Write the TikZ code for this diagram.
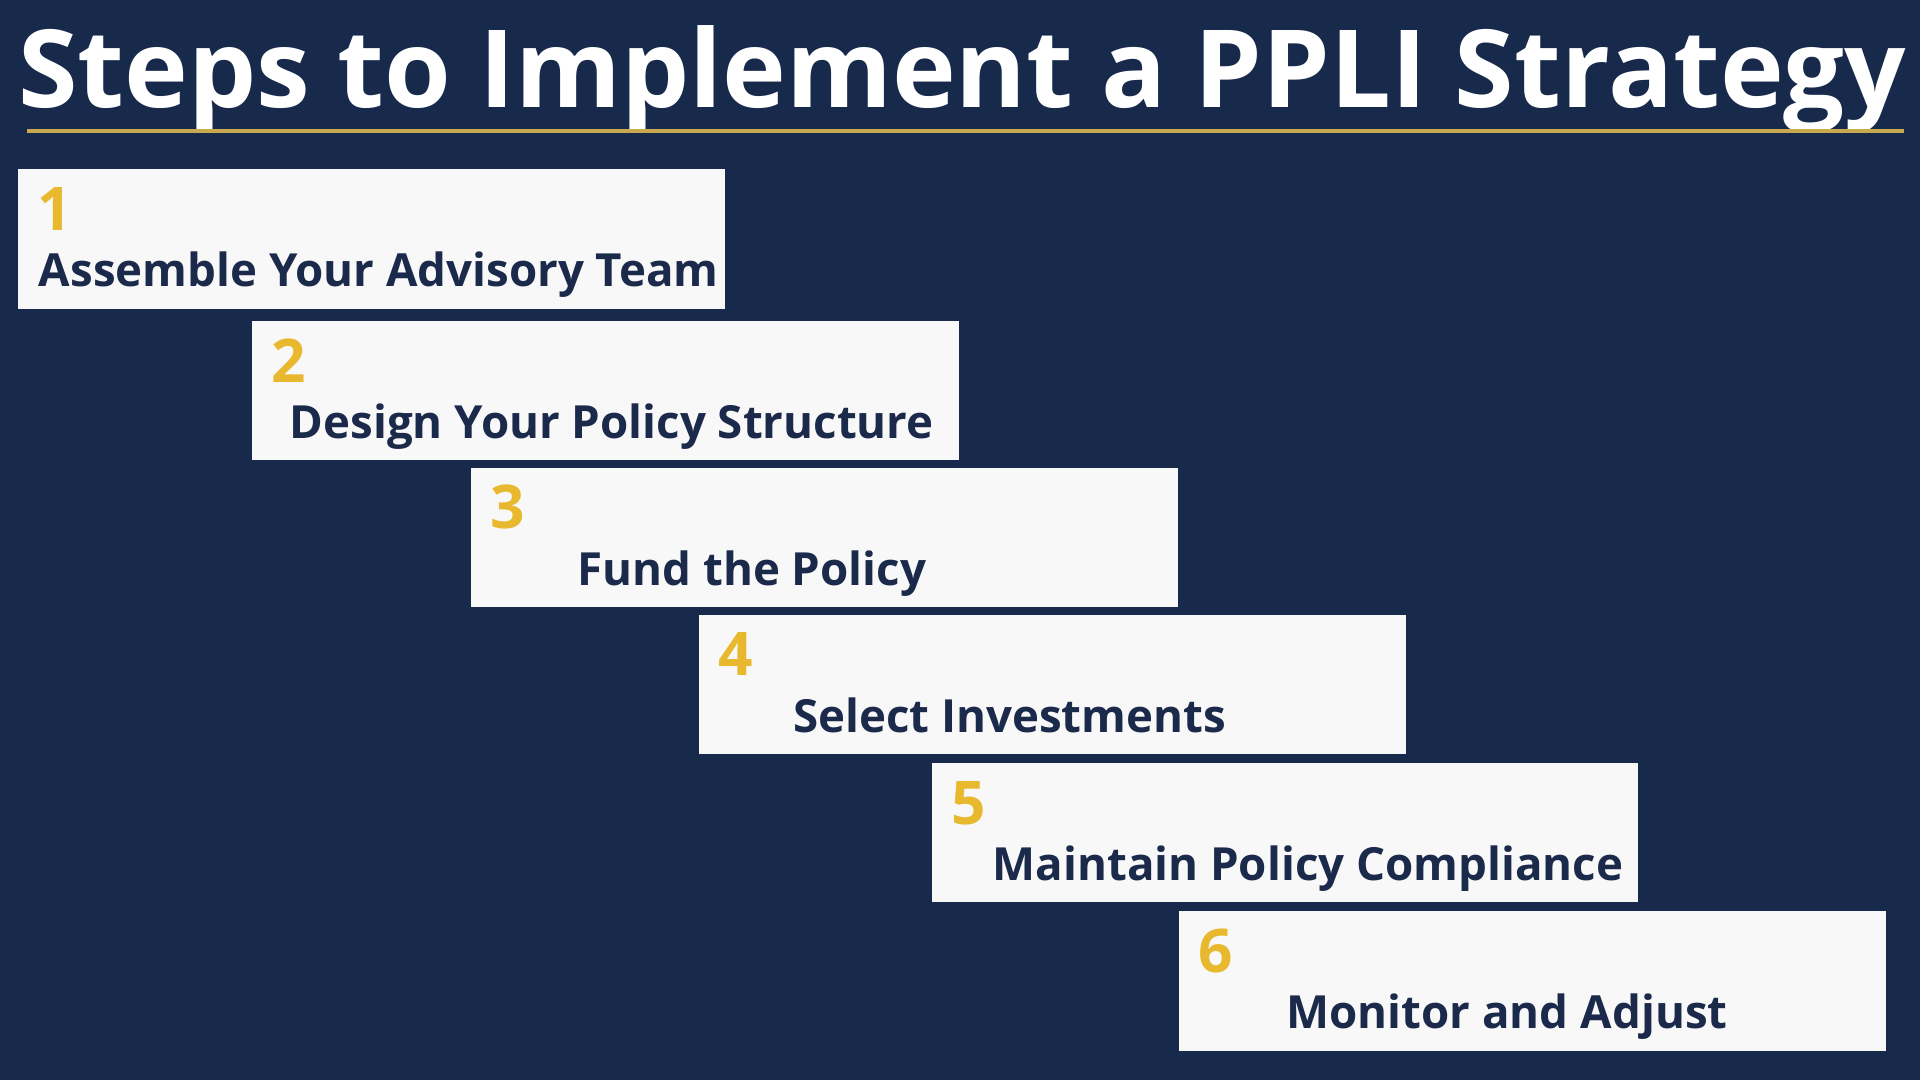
\documentclass[tikz,border=0pt]{standalone}
\usepackage{fontspec}
\usepackage{graphicx}
\setmainfont{Open Sans}
\definecolor{navy}{HTML}{182A4C}
\definecolor{gold}{HTML}{E8B92E}
\definecolor{boxw}{HTML}{F8F8F8}
\definecolor{txt}{HTML}{1B2A4A}
\definecolor{linegold}{HTML}{C9A94F}
\begin{document}
\begin{tikzpicture}[x=0.01cm,y=-0.01cm,
  stepbox/.style={fill=boxw,draw=none},
  num/.style={anchor=base west,text=gold,font=\fontsize{14}{16}\selectfont\bfseries,inner sep=0},
  lab/.style={anchor=base west,text=txt,font=\fontsize{10.6}{13}\selectfont\bfseries,inner sep=0}]
\fill[navy] (0,0) rectangle (1568,882);
\useasboundingbox (0,0) rectangle (1568,882);
\node[anchor=base west,inner sep=0,text=white,font=\fontsize{27}{30}\selectfont\bfseries] (title) at (14,88) {\resizebox{15.41cm}{!}{Steps to Implement a PPLI Strategy}};
\coordinate (l1) at (22,107); \coordinate (l2) at (1555,107);
\draw[linegold,line width=0.8pt] (l1) -- (l2);
\foreach \i/\xa/\ya/\tx/\t in {1/15/138/31/Assemble Your Advisory Team,2/206/262/236/Design Your Policy Structure,3/385/382/471/Fund the Policy,4/571/502/647/Select Investments,5/761/623/810/Maintain Policy Compliance,6/963/744/1050/Monitor and Adjust}{
  \path[stepbox] (\xa,\ya) rectangle ++(577,114);
  \node[num] (n\i) at (\xa+15,\ya+50) {\i};
  \node[lab] (t\i) at (\tx,\ya+96) {\t};
}
\end{tikzpicture}
\end{document}
